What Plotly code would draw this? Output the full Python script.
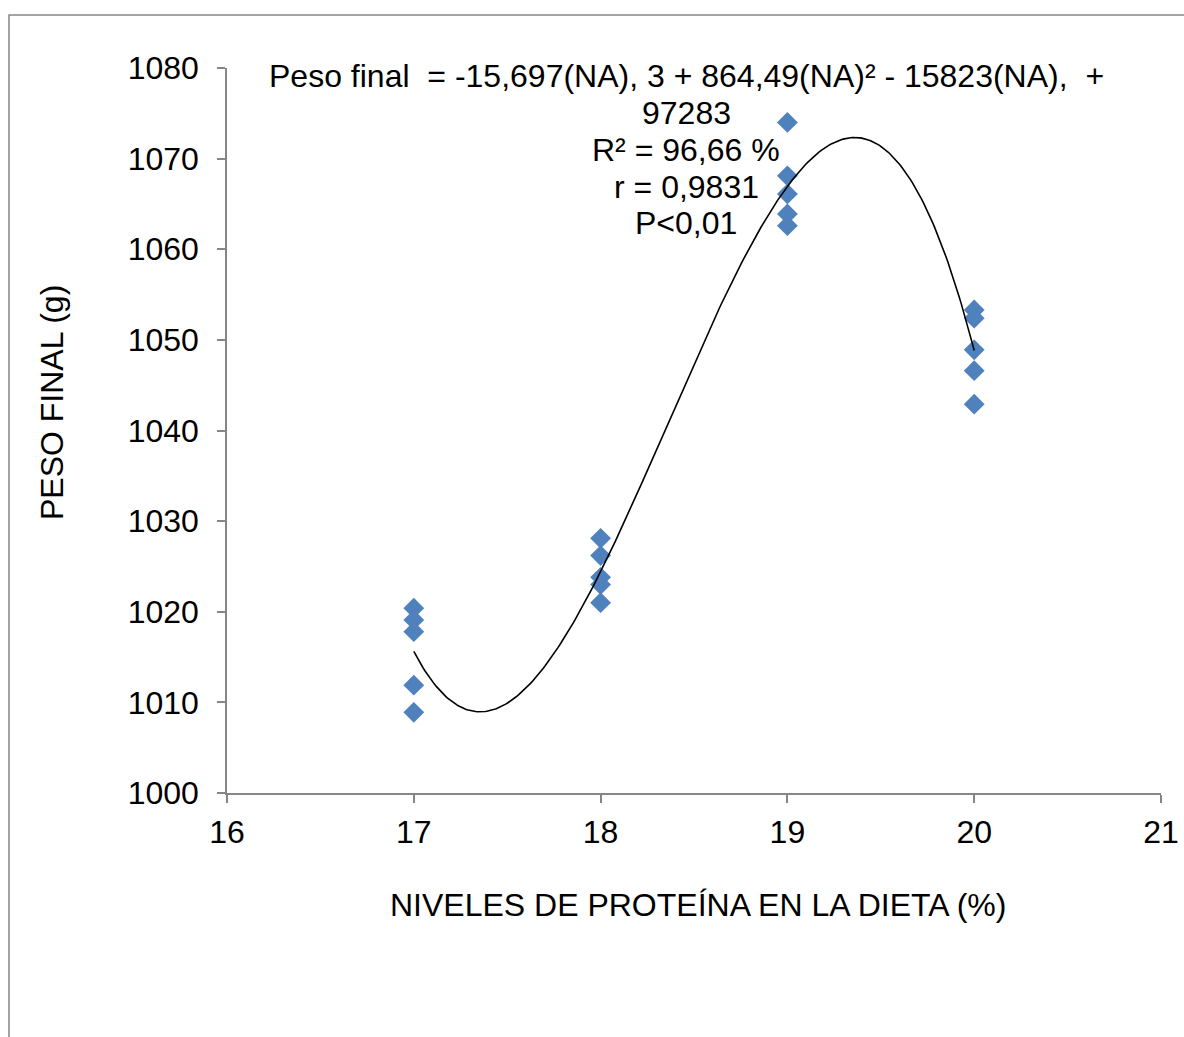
import numpy as np
import plotly.graph_objects as go

# Data
protein_levels = [17, 17, 17, 17, 17,
                  18, 18, 18, 18, 18,
                  19, 19, 19, 19, 19,
                  20, 20, 20, 20, 20]
final_weight = [1020.4, 1019.1, 1017.8, 1011.9, 1008.9,
                1028.1, 1026.2, 1023.8, 1023.0, 1021.0,
                1074.0, 1068.1, 1066.1, 1063.9, 1062.6,
                1053.3, 1052.4, 1048.9, 1046.6, 1042.9]

x_ticks = [16, 17, 18, 19, 20, 21]
y_ticks = [1000, 1010, 1020, 1030, 1040, 1050, 1060, 1070, 1080]

x_title = "NIVELES DE PROTEÍNA EN LA DIETA (%)"
y_title = "PESO FINAL (g)"

annotation_lines = [
    "Peso final  = -15,697(NA), 3 + 864,49(NA)² - 15823(NA),  +",
    "97283",
    "R² = 96,66 %",
    "r = 0,9831",
    "P<0,01",
]

# Polynomial (order 3) trendline, fitted from the data
coef = np.polyfit(protein_levels, final_weight, 3)
xs = np.linspace(min(protein_levels), max(protein_levels), 300)
ys = np.polyval(coef, xs)

FONT = "Liberation Sans, Arial, sans-serif"
AXIS_COLOR = "#868686"
FS = 32

# plot area in page pixels
PX0, PX1, PY0, PY1 = 227, 1161, 68, 793
W, H = 1184, 1037


def px_to_paper_x(px):
    return (px - PX0) / (PX1 - PX0)


def px_to_paper_y(py):
    return (PY1 - py) / (PY1 - PY0)


line_centers = [76, 113, 150, 187, 223]
annotations = [
    dict(xref="paper", yref="paper",
         x=px_to_paper_x(686), y=px_to_paper_y(cy),
         xanchor="center", yanchor="middle",
         text=txt, showarrow=False,
         font=dict(size=FS, family=FONT, color="black"))
    for txt, cy in zip(annotation_lines, line_centers)
]
annotations.append(dict(
    xref="paper", yref="paper", x=px_to_paper_x(698), y=px_to_paper_y(905),
    xanchor="center", yanchor="middle", text=x_title, showarrow=False,
    font=dict(size=FS, family=FONT, color="black")))
annotations.append(dict(
    xref="paper", yref="paper", x=px_to_paper_x(52), y=px_to_paper_y(403),
    xanchor="center", yanchor="middle", text=y_title, showarrow=False,
    textangle=-90, font=dict(size=FS, family=FONT, color="black")))

fig = go.Figure()
fig.add_trace(go.Scatter(
    x=protein_levels, y=final_weight, mode="markers",
    marker=dict(symbol="diamond", size=16, color="#4F81BD",
                line=dict(width=0)),
    showlegend=False, hoverinfo="x+y",
))
fig.add_trace(go.Scatter(
    x=xs, y=ys, mode="lines",
    line=dict(color="black", width=1.6),
    showlegend=False, hoverinfo="skip",
))

fig.update_layout(
    width=W, height=H,
    margin=dict(l=PX0, r=W - PX1, t=PY0, b=H - PY1, autoexpand=False),
    paper_bgcolor="white", plot_bgcolor="white",
    font=dict(family=FONT, size=FS, color="black"),
    xaxis=dict(
        range=[16, 21], tickvals=x_ticks, ticktext=[str(v) for v in x_ticks],
        showgrid=False, zeroline=False, automargin=False,
        showline=True, linecolor=AXIS_COLOR, linewidth=1.5,
        ticks="outside", ticklen=8, tickcolor=AXIS_COLOR, tickwidth=1.5,
        tickfont=dict(size=FS), ticklabelstandoff=2, ticklabeloverflow="allow",
    ),
    yaxis=dict(
        range=[1000, 1080], tickvals=y_ticks, ticktext=[str(v) for v in y_ticks],
        showgrid=False, zeroline=False, automargin=False,
        showline=True, linecolor=AXIS_COLOR, linewidth=1.5,
        ticks="outside", ticklen=8, tickcolor=AXIS_COLOR, tickwidth=1.5,
        tickfont=dict(size=FS), ticklabelstandoff=12,
    ),
    shapes=[dict(
        type="rect", xref="paper", yref="paper",
        x0=px_to_paper_x(9), x1=px_to_paper_x(1220),
        y0=px_to_paper_y(1080), y1=px_to_paper_y(15),
        line=dict(color=AXIS_COLOR, width=1.5), fillcolor="rgba(0,0,0,0)",
        layer="below",
    )],
    annotations=annotations,
)

fig.write_html(
    "out.html",
    config={"displayModeBar": False},
    post_script="document.body.style.margin='0';document.body.style.overflow='hidden';",
)
